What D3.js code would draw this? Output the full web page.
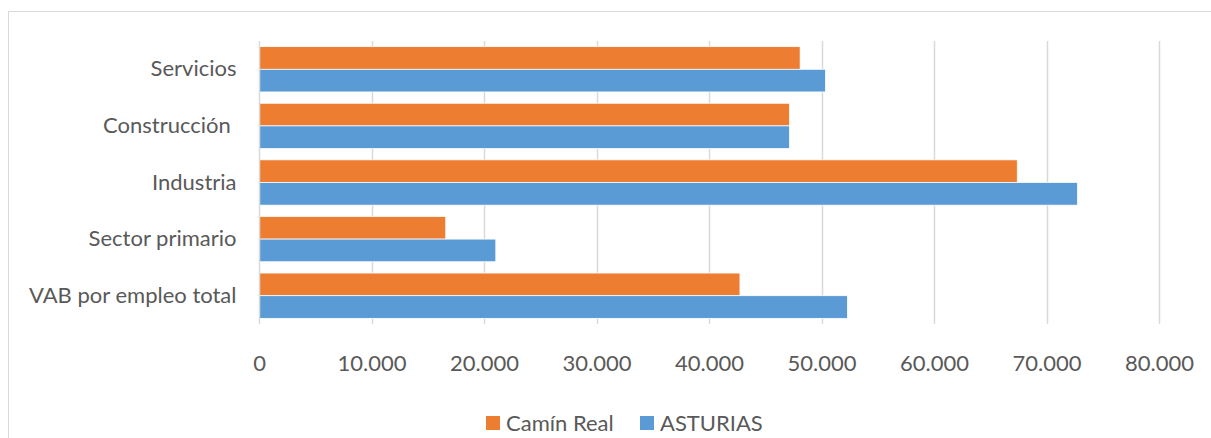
<!DOCTYPE html>
<html>
<head>
<meta charset="utf-8">
<script src="https://cdn.jsdelivr.net/npm/d3@7"></script>
<style>
  body { margin: 0; background: #fff; }
  svg text { font-family: Lato, "Open Sans", sans-serif; fill: #595959; }
</style>
</head>
<body>
<svg id="chart" width="1211" height="438"></svg>
<script>
// Categories (top to bottom) and the two series
var categories = ["Servicios", "Construcción ", "Industria", "Sector primario", "VAB por empleo total"];
var seriesNames = ["Camín Real", "ASTURIAS"];
var caminReal = [48100, 47150, 67400, 16600, 42750];
var asturias  = [50350, 47150, 72750, 21050, 52300];
var tickValues = [0, 10000, 20000, 30000, 40000, 50000, 60000, 70000, 80000];
var colors = ["#ED7D31", "#5B9BD5"];

var margin = {left: 259, right: 52, top: 41, bottom: 114};
var W = 1211, H = 438;
var fontSize = "22px";

var svg = d3.select("#chart");

// outer chart frame (only left and top edges visible)
svg.append("path")
   .attr("d", "M8.5,438 L8.5,11.5 L1211,11.5")
   .attr("fill", "none")
   .attr("stroke", "#D9D9D9")
   .attr("stroke-width", 1);

var x = d3.scaleLinear().domain([0, 80000]).range([margin.left, W - margin.right]);
var y = d3.scaleBand().domain(categories).range([margin.top, H - margin.bottom])
          .paddingInner(0.2).paddingOuter(0.1);
var sub = d3.scaleBand().domain(seriesNames).range([0, y.bandwidth()]);

var fmt = function(d){ return d === 0 ? "0" : d3.format(",")(d).replace(/,/g, "."); };

// gridlines
svg.append("g").selectAll("line")
   .data(tickValues.slice(1)).enter()
   .append("line")
   .attr("x1", d => Math.round(x(d)) + 0.5).attr("x2", d => Math.round(x(d)) + 0.5)
   .attr("y1", margin.top).attr("y2", H - margin.bottom)
   .attr("stroke", "#D9D9D9").attr("stroke-width", 1.5);

// bars
var rows = categories.map(function(c, i){
  return [{cat: c, s: seriesNames[0], v: caminReal[i]}, {cat: c, s: seriesNames[1], v: asturias[i]}];
});
svg.append("g").selectAll("g")
   .data(rows).enter().append("g")
   .selectAll("rect")
   .data(d => d).enter()
   .append("rect")
   .attr("x", x(0))
   .attr("y", d => y(d.cat) + sub(d.s))
   .attr("width", d => x(d.v) - x(0))
   .attr("height", sub.bandwidth())
   .attr("fill", (d, i) => colors[i])
   .attr("stroke", "#fff").attr("stroke-width", 0.75);

// category axis line
var yAxis = d3.axisLeft(y).tickSize(0).tickPadding(23);
var gy = svg.append("g").attr("transform", "translate(" + (Math.round(x(0)) + 0.5) + ",0)").call(yAxis);
gy.select(".domain").attr("stroke", "#D9D9D9").attr("stroke-width", 1.5)
  .attr("d", "M0," + margin.top + "V" + (H - margin.bottom));
gy.selectAll("text").style("font-size", fontSize).style("white-space", "pre")
  .attr("fill", "#595959");

// value axis labels
var xAxis = d3.axisBottom(x).tickValues(tickValues).tickFormat(fmt).tickSize(0).tickPadding(31);
var gx = svg.append("g").attr("transform", "translate(0," + (H - margin.bottom) + ")").call(xAxis);
gx.select(".domain").remove();
gx.selectAll("text").style("font-size", fontSize).attr("fill", "#595959");

// legend
var legend = svg.append("g");
var legX = [486, 640];
seriesNames.forEach(function(s, i){
  legend.append("rect").attr("x", legX[i]).attr("y", 416).attr("width", 14).attr("height", 14).attr("fill", colors[i]);
  legend.append("text").attr("x", legX[i] + 20).attr("y", 423).attr("dy", "0.35em")
        .style("font-size", fontSize).text(s);
});
</script>
</body>
</html>
